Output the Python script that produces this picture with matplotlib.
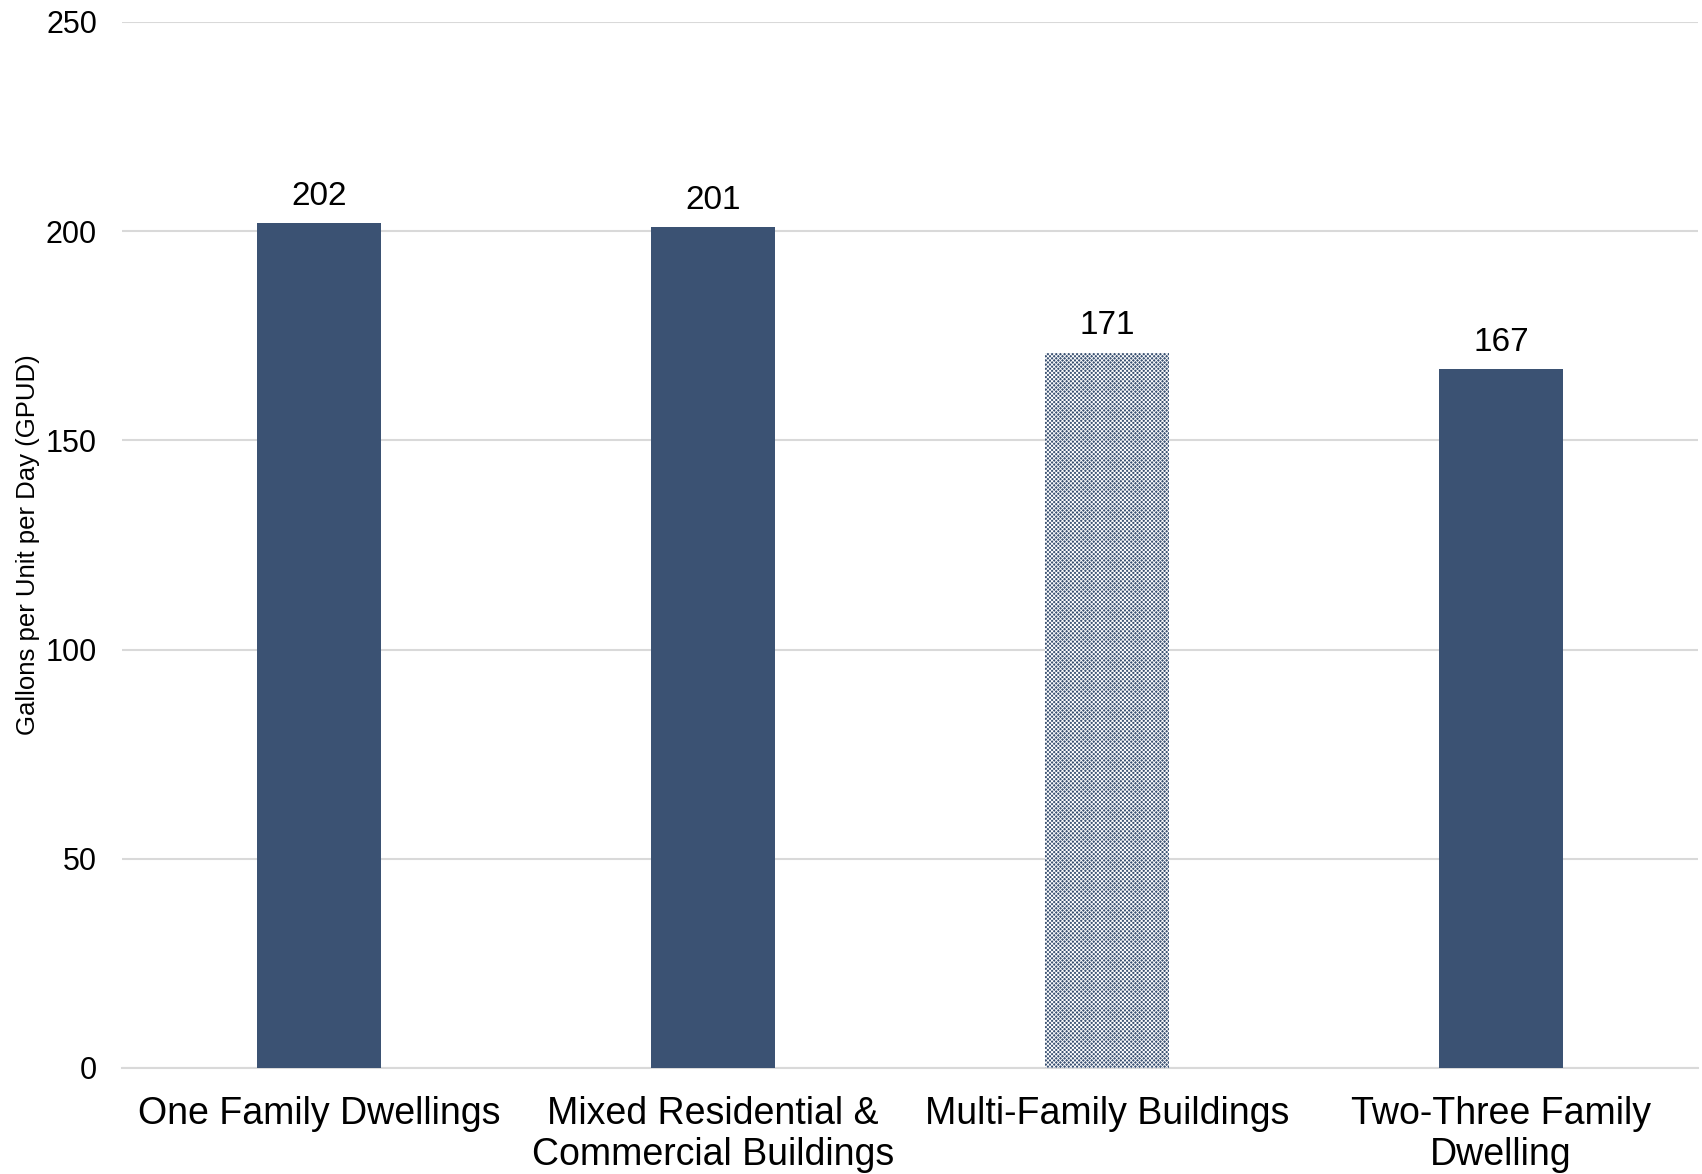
import matplotlib.pyplot as plt
import numpy as np

plt.rcParams['font.family'] = ['Liberation Sans', 'DejaVu Sans']
plt.rcParams['hatch.linewidth'] = 0.6

categories = ["One Family Dwellings", "Mixed Residential &\nCommercial Buildings",
              "Multi-Family Buildings", "Two-Three Family\nDwelling"]
gpud = [202, 201, 171, 167]
hatched = [False, False, True, False]

bar_color = "#3B5273"
grid_color = "#D9D9D9"

fig = plt.figure(figsize=(17.02, 11.74), dpi=100)
ax = fig.add_axes([0.0717, 0.0903, 0.926, 0.891])

x = np.arange(len(categories))
bars = ax.bar(x, gpud, width=0.315, color=bar_color, zorder=3, linewidth=0)
for b, h in zip(bars, hatched):
    if h:
        b.set_hatch("xxxxxxxx")
        b.set_edgecolor("white")
        b.set_linewidth(0)

for xi, v in zip(x, gpud):
    ax.annotate(str(v), (xi, v), xytext=(0, 8), textcoords="offset points",
                ha="center", va="bottom", fontsize=24)

ax.set_xlim(-0.5, len(categories) - 0.5)
ax.set_ylim(0, 250)
ax.set_yticks(range(0, 251, 50))
ax.yaxis.grid(True, color=grid_color, linewidth=1.5, zorder=0)
ax.set_axisbelow(True)
for s in ["top", "right", "left"]:
    ax.spines[s].set_visible(False)
ax.spines["bottom"].set_color(grid_color)
ax.spines["bottom"].set_linewidth(1.5)
ax.tick_params(axis="y", length=0, labelsize=22, pad=18)
ax.tick_params(axis="x", length=0, labelsize=27, pad=20)
ax.set_xticks(x)
ax.set_xticklabels(categories, linespacing=1.2)
ax.set_ylabel("Gallons per Unit per Day (GPUD)", fontsize=18.5)
ax.yaxis.set_label_coords(-0.052, 0.5)

fig.savefig("out.png", dpi=100)
